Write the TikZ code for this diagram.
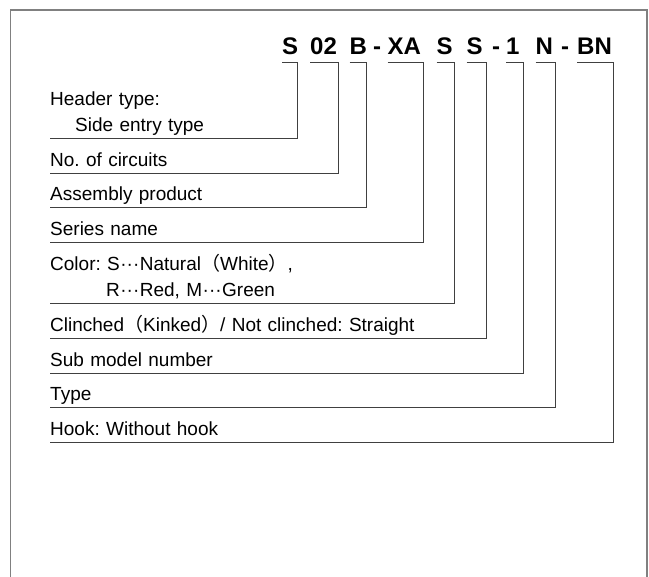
\documentclass[tikz,border=0pt]{standalone}
\usepackage{fontspec}
\setmainfont{Liberation Sans}
\newfontfamily\cjk{Noto Sans CJK JP}
\newcommand{\fwl}{{\cjk （}}
\newcommand{\fwr}{{\cjk ）}}
\newcommand{\mdots}{\kern0.5pt···\kern0.5pt}
\frenchspacing
\tikzset{
        code/.style={font=\fontsize{24}{24}\selectfont\bfseries, anchor=base west, inner xsep=0pt, inner ysep=7.7pt, text depth=0pt},
        lbl/.style={font=\fontsize{19}{26.7}\selectfont, anchor=south west, align=left, inner xsep=0pt, inner ysep=2pt, text depth=5pt},
        lbltwo/.style={lbl, text depth=31.7pt},
        con/.style={draw=black!75, line width=1pt},
        frame/.style={draw=black!50, line width=1.6pt}
}
\begin{document}
\begin{tikzpicture}[x=1pt, y=-1pt]
        \useasboundingbox (0,0) rectangle (649,577);
        \draw[frame] (10.5,577) -- (10.5,10) -- (647,10) -- (647,577);

        \node[code] (cS) at (282,55) {S};
        \node[code] (cCir) at (310,55) {02};
        \node[code] (cB) at (349.5,55) {B};
        \node[code] (h1) at (373,55) {-};
        \node[code] (cXA) at (387.5,55) {XA};
        \node[code] (cCol) at (436.5,55) {S};
        \node[code] (cCli) at (466.5,55) {S};
        \node[code] (h2) at (492,55) {-};
        \node[code] (cSub) at (506,55) {1};
        \node[code] (cN) at (535.5,55) {N};
        \node[code] (h3) at (561,55) {-};
        \node[code] (cBN) at (577,55) {BN};

        \node[lbltwo, text width=247.5pt] (lHdr) at (50,139) {Header type:\\\hspace{25pt}Side entry type};
        \node[lbl, text width=288pt] (lCir) at (50,173.3) {No. of circuits};
        \node[lbl, text width=316.5pt] (lAsm) at (50,207.7) {Assembly product};
        \node[lbl, text width=373pt] (lSer) at (50,242.3) {Series name};
        \node[lbltwo, text width=404pt] (lCol) at (50,304) {Color: S\mdots Natural\fwl White\fwr,\\\hspace{56pt}R\mdots Red, M\mdots Green};
        \node[lbl, text width=436.5pt] (lCli) at (50,338.7) {Clinched\fwl Kinked\fwr/ Not clinched: Straight};
        \node[lbl, text width=473pt] (lSub) at (50,373.3) {Sub model number};
        \node[lbl, text width=505.5pt] (lTyp) at (50,407.7) {Type};
        \node[lbl, text width=562.7pt] (lHok) at (50,442.3) {Hook: Without hook};

        \draw[con] (cS.south west) -| (lHdr.south east) -- (lHdr.south west);
        \draw[con] (cCir.south west) -| (lCir.south east) -- (lCir.south west);
        \draw[con] (cB.south west) -| (lAsm.south east) -- (lAsm.south west);
        \draw[con] (cXA.south west) -| (lSer.south east) -- (lSer.south west);
        \draw[con] (cCol.south west) -| (lCol.south east) -- (lCol.south west);
        \draw[con] (cCli.south west) -| (lCli.south east) -- (lCli.south west);
        \draw[con] (cSub.south west) -| (lSub.south east) -- (lSub.south west);
        \draw[con] (cN.south west) -| (lTyp.south east) -- (lTyp.south west);
        \draw[con] (cBN.south west) -| (lHok.south east) -- (lHok.south west);
\end{tikzpicture}
\end{document}
